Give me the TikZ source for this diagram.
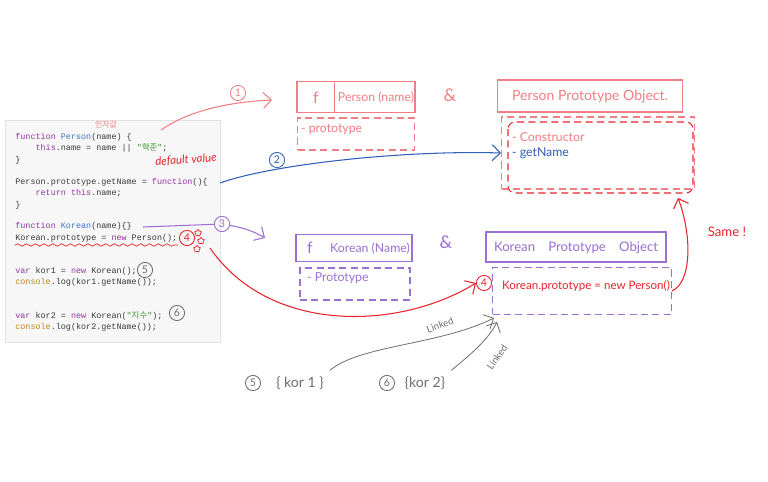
\documentclass[tikz,border=0pt]{standalone}
\usepackage{fontspec}
\setmainfont{Lato}
\setmonofont{Liberation Mono}
\newfontfamily\krfont{Noto Sans CJK KR}
\usepackage{tikz}
\usetikzlibrary{arrows.meta,positioning,calc,shapes.geometric,decorations.pathmorphing}
\definecolor{panelbg}{HTML}{F7F7F8}
\definecolor{panelrule}{HTML}{E2E2E4}
\definecolor{codetext}{HTML}{3A3A3A}
\definecolor{codekw}{HTML}{93379B}
\definecolor{codefn}{HTML}{3C78C0}
\definecolor{codestr}{HTML}{3F9A2E}
\definecolor{codecons}{HTML}{B8861E}
\definecolor{pinkc}{HTML}{F07F84}
\definecolor{redc}{HTML}{E8242C}
\definecolor{bluec}{HTML}{2F5FB8}
\definecolor{purplec}{HTML}{9B70D2}
\definecolor{grayc}{HTML}{6E6E6E}
\newcommand{\kw}[1]{\textcolor{codekw}{#1}}
\newcommand{\fnname}[1]{\textcolor{codefn}{#1}}
\newcommand{\strlit}[1]{\textcolor{codestr}{#1}}
\newcommand{\cons}[1]{\textcolor{codecons}{#1}}
\newcommand{\tab}{\phantom{0000}}
\def\u{0.02cm}
\tikzset{
  codeline/.style={anchor=west, inner sep=0pt, text=codetext,
                   font=\ttfamily\fontsize{4.8}{6}\selectfont},
  hand/.style={inner sep=1pt, font=\fontsize{7}{8}\selectfont},
  headbox/.style={draw, line width=0.6pt, inner sep=0pt},
  bodybox/.style={draw, dashed, dash pattern=on 4pt off 2.5pt, line width=0.6pt, inner sep=0pt},
  numcirc/.style={circle, draw, line width=0.5pt, inner sep=1.1pt,
                  font=\fontsize{6}{6}\selectfont},
  sketch/.style={line width=0.6pt, -{Straight Barb[length=1.6mm]}},
  twinkle/.style={star, star points=5, draw=redc, line width=0.4pt,
                  minimum size=4pt, inner sep=0pt}
}
\begin{document}
\begin{tikzpicture}[x=0.02cm,y=-0.02cm]
  \useasboundingbox (0,0) rectangle (768,482);
  \fill[white] (0,0) rectangle (768,482);

  % code panel
  \node[draw=panelrule, fill=panelbg, minimum width=215*\u, minimum height=222*\u,
        inner sep=0pt] (panel) at (112.5,231) {};
  \node[codeline] (c1)  at (15,137) {\kw{function} \fnname{Person}(name) \{};
  \node[codeline] (c2)  at (15,148) {\tab\kw{this}.name = name || \strlit{"{\krfont 혁준}"};};
  \node[codeline] (c3)  at (15,160) {\}};
  \node[codeline] (c4)  at (15,182) {Person.prototype.getName = \kw{function}()\{};
  \node[codeline] (c5)  at (15,193) {\tab\kw{return} \kw{this}.name;};
  \node[codeline] (c6)  at (15,205) {\}};
  \node[codeline] (c7)  at (15,226) {\kw{function} \fnname{Korean}(name)\{\}};
  \node[codeline] (c8)  at (15,238) {Korean.prototype = \kw{new} Person();};
  \node[codeline] (c9)  at (15,271) {\kw{var} kor1 = \kw{new} Korean();};
  \node[codeline] (c10) at (15,282) {\cons{console}.log(kor1.getName());};
  \node[codeline] (c11) at (15,316) {\kw{var} kor2 = \kw{new} Korean(\strlit{"{\krfont 지수}"});};
  \node[codeline] (c12) at (15,327) {\cons{console}.log(kor2.getName());};

  % notes on the code
  \node[text=pinkc, inner sep=0pt, font=\krfont\fontsize{4.5}{5}\selectfont] (argnote) at (106,125) {인자값};
  \node[hand, text=redc, rotate=4, font=\itshape\fontsize{6.5}{7}\selectfont] (defnote) at (186,160) {default value};
  \draw[redc, line width=0.4pt, decorate, decoration={snake, amplitude=0.7pt, segment length=5pt}]
    (15,245) -- (178,245);
  \node[numcirc, draw=redc, text=redc] (n4a) at (187,238) {4};
  \node[twinkle] (tw1) at (198,233) {};
  \node[twinkle] (tw2) at (201,241) {};
  \node[twinkle] (tw3) at (197,249) {};
  \node[numcirc, draw=grayc, text=grayc] (n5a) at (145,270) {5};
  \node[numcirc, draw=grayc, text=grayc] (n6a) at (177,313) {6};

  % Person function object
  \node[headbox, draw=pinkc, minimum width=118*\u, minimum height=31*\u] (pfun) at (356,97) {};
  \draw[pinkc, line width=0.5pt] ($(pfun.north west)+(38,0)$) -- ($(pfun.south west)+(38,0)$);
  \node[hand, text=pinkc, font=\fontsize{9}{10}\selectfont] at (316,98) {f};
  \node[hand, text=pinkc] (pfunname) at (376,98) {Person (name)};
  \node[bodybox, draw=pinkc, minimum width=117*\u, minimum height=32*\u] (pproto) at (356,134) {};
  \node[hand, text=pinkc, anchor=west] (pprotoname) at (299,129) {- prototype};
  \node[text=pinkc, font=\fontsize{10}{10}\selectfont] (amp1) at (450,95) {\&};

  % Person prototype object
  \node[headbox, draw=pinkc, minimum width=185*\u, minimum height=32*\u] (ppo) at (590,96) {};
  \node[hand, text=pinkc, font=\fontsize{8}{9}\selectfont] (pponame) at (590,97) {Person Prototype Object.};
  \node[bodybox, draw=pinkc, minimum width=193*\u, minimum height=72*\u] (ppbody) at (598,153) {};
  \draw[redc, dashed, dash pattern=on 4pt off 2.5pt, line width=0.6pt, rounded corners=4pt]
    (508,122) rectangle (693,193);
  \node[hand, text=pinkc, anchor=west] (ctor) at (510,137) {- Constructor};
  \node[hand, text=bluec, anchor=west] (getname) at (510,153) {- getName};

  % Korean function object
  \node[headbox, draw=purplec, minimum width=116*\u, minimum height=27*\u] (kfun) at (354,248) {};
  \node[hand, text=purplec, font=\fontsize{9}{10}\selectfont] at (310,248) {f};
  \node[hand, text=purplec] (kfunname) at (370,249) {Korean (Name)};
  \node[bodybox, draw=purplec, minimum width=110*\u, minimum height=32*\u] (kproto) at (355,284) {};
  \node[hand, text=purplec, anchor=west] (kprotoname) at (305,278) {- Prototype};
  \node[text=purplec, font=\fontsize{10}{10}\selectfont] (amp2) at (446,242) {\&};

  % Korean prototype object
  \node[headbox, draw=purplec, minimum width=180*\u, minimum height=30*\u] (kpo) at (576,247) {};
  \node[hand, text=purplec, font=\fontsize{7.5}{8}\selectfont] (kponame) at (576,248) {Korean\quad Prototype\quad Object};
  \node[bodybox, draw=purplec, minimum width=179*\u, minimum height=47*\u] (kbody) at (582,291) {};
  \node[hand, text=redc, font=\fontsize{6.6}{7}\selectfont] (newperson) at (586,286) {Korean.prototype = new Person()};

  % connectors
  \coordinate (s1) at (161,130);
  \coordinate (e1) at (272,100);
  \draw[sketch, pinkc] (s1) .. controls (190,110) and (230,102) .. (e1);
  \node[numcirc, draw=pinkc, text=pinkc] (n1) at (238,93) {1};

  \coordinate (s2) at (220,183);
  \draw[sketch, bluec] (s2) .. controls (270,165) and (400,150) .. (ppbody.west);
  \node[numcirc, draw=bluec, text=bluec] (n2) at (277,160) {2};

  \coordinate (s3) at (143,227);
  \coordinate (e3) at (265,238);
  \node[numcirc, draw=purplec, text=purplec] (n3) at (222,224) {3};
  \draw[purplec, line width=0.6pt] (s3) -- (n3);
  \draw[sketch, purplec] (n3) .. controls (245,228) and (255,232) .. (e3);

  \coordinate (s4) at (210,248);
  \node[numcirc, draw=redc, text=redc] (n4) at (484,283) {4};
  \draw[sketch, redc] (s4) .. controls (270,335) and (400,330) .. (n4.west);

  \draw[sketch, redc] (kbody.east) .. controls (692,282) and (692,235) .. (678,198);
  \node[hand, text=redc, font=\fontsize{7.5}{8}\selectfont] (same) at (727,232) {Same !};

  % instances
  \node[numcirc, draw=grayc, text=grayc] (n5) at (253,383) {5};
  \node[text=grayc, font=\fontsize{8}{9}\selectfont] (kor1) at (300,383) {\{ kor 1 \}};
  \node[numcirc, draw=grayc, text=grayc] (n6) at (387,383) {6};
  \node[text=grayc, font=\fontsize{8}{9}\selectfont] (kor2) at (425,383) {\{kor 2\}};
  \draw[sketch, grayc, line width=0.45pt] (kor1.north east) .. controls (360,345) and (440,345) .. (494,318);
  \node[text=grayc, rotate=20, font=\fontsize{5.5}{6}\selectfont] (link1) at (440,325) {Linked};
  \draw[sketch, grayc, line width=0.45pt] (kor2.north east) .. controls (470,355) and (488,340) .. (497,322);
  \node[text=grayc, rotate=55, inner sep=0.5pt, font=\fontsize{5.5}{6}\selectfont] (link2) at (497,357) {Linked};
\end{tikzpicture}
\end{document}
